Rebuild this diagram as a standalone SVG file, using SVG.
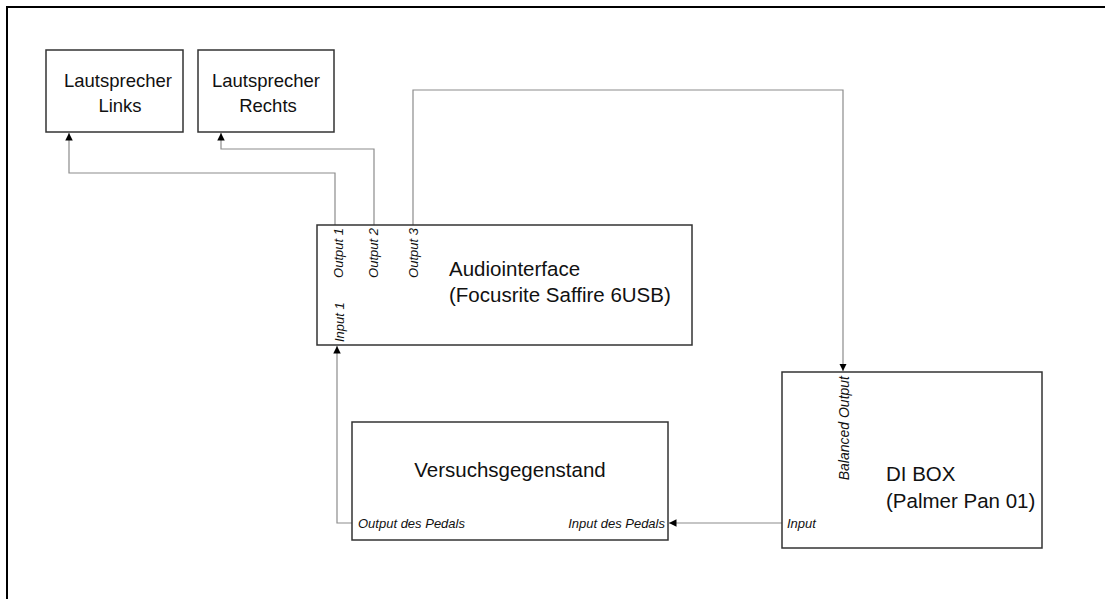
<svg xmlns="http://www.w3.org/2000/svg" width="1105" height="599" viewBox="0 0 1105 599">
<style>
.box{fill:#fff;stroke:#333;stroke-width:1.5}
.conn{fill:none;stroke:#8c8c8c;stroke-width:1.2}
.t{font-family:"Liberation Sans",Arial,sans-serif;fill:#111}
.big{font-size:20.5px}
.mid{font-size:18.5px}
.lbl{font-family:"Liberation Sans",Arial,sans-serif;font-style:italic;font-size:13px;fill:#111}
</style>
<defs>
<marker id="arr" viewBox="0 0 10 10" refX="10" refY="5" markerWidth="7.5" markerHeight="7.5" markerUnits="userSpaceOnUse" orient="auto">
<path d="M0,0 L10,5 L0,10 Z" fill="#000"/>
</marker>
</defs>
<rect x="0" y="0" width="1105" height="599" fill="#fff"/>
<path d="M7,599 V7 H1105" fill="none" stroke="#000" stroke-width="2"/>

<g id="connectors">
<path class="conn" d="M335,225 V173 H69 V133" marker-end="url(#arr)"/>
<path class="conn" d="M374,225 V149 H221 V133" marker-end="url(#arr)"/>
<path class="conn" d="M413,225 V90 H843 V371" marker-end="url(#arr)"/>
<path class="conn" d="M352,523 H337 V346" marker-end="url(#arr)"/>
<path class="conn" stroke="#666" d="M782,523 H669" marker-end="url(#arr)"/>
</g>

<g id="ls-links">
<rect class="box" x="46" y="50" width="137" height="82"/>
<text class="t mid" x="118" y="87" text-anchor="middle">Lautsprecher</text>
<text class="t mid" x="120" y="112" text-anchor="middle">Links</text>
</g>

<g id="ls-rechts">
<rect class="box" x="198" y="50" width="136" height="82"/>
<text class="t mid" x="266" y="87" text-anchor="middle">Lautsprecher</text>
<text class="t mid" x="268" y="112" text-anchor="middle">Rechts</text>
</g>

<g id="audiointerface">
<rect class="box" x="317" y="225" width="375" height="120"/>
<text class="t big" x="449" y="276">Audiointerface</text>
<text class="t big" x="449" y="302">(Focusrite Saffire 6USB)</text>
<text class="lbl" transform="translate(343,228) rotate(-90)" text-anchor="end">Output 1</text>
<text class="lbl" transform="translate(378,228) rotate(-90)" text-anchor="end">Output 2</text>
<text class="lbl" transform="translate(418,228) rotate(-90)" text-anchor="end">Output 3</text>
<text class="lbl" transform="translate(344,342) rotate(-90)" text-anchor="start">Input 1</text>
</g>

<g id="versuchsgegenstand">
<rect class="box" x="352" y="422" width="316" height="118"/>
<text class="t big" x="510" y="477" text-anchor="middle">Versuchsgegenstand</text>
<text class="lbl" x="358" y="528">Output des Pedals</text>
<text class="lbl" x="665" y="528" text-anchor="end">Input des Pedals</text>
</g>

<g id="dibox">
<rect class="box" x="782" y="372" width="260" height="176"/>
<text class="t big" x="886" y="481">DI BOX</text>
<text class="t big" x="886" y="508">(Palmer Pan 01)</text>
<text class="lbl" transform="translate(849,376) rotate(-90)" text-anchor="end" style="font-size:14px">Balanced Output</text>
<text class="lbl" x="787" y="528">Input</text>
</g>
</svg>
